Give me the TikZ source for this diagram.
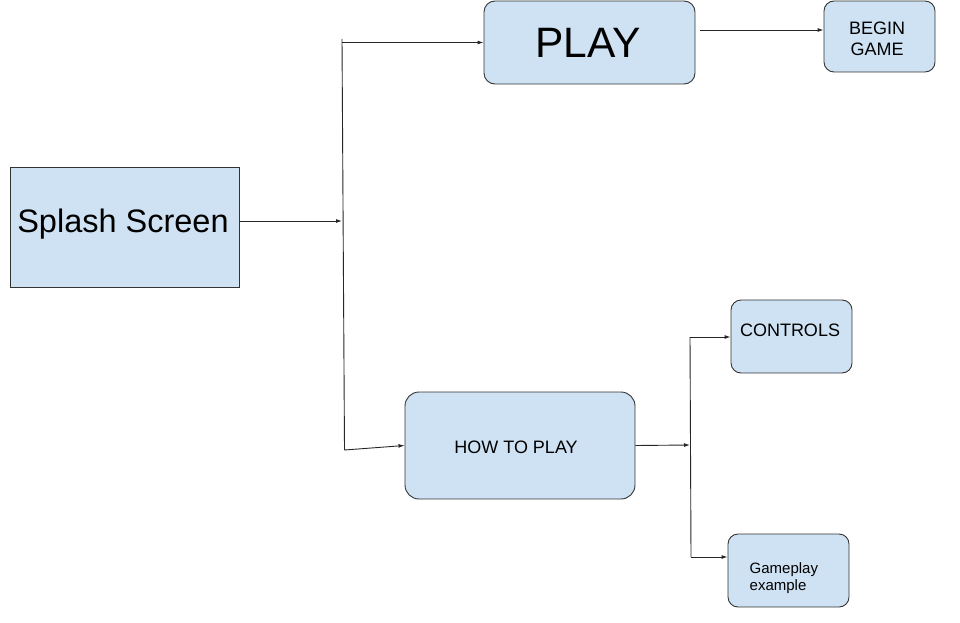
\documentclass[tikz,border=0pt]{standalone}
\usepackage{fontspec}
\setmainfont{Liberation Sans}
\usetikzlibrary{arrows.meta}
\definecolor{boxblue}{HTML}{CFE2F3}

\begin{document}
\begin{tikzpicture}[x=1pt,y=-1pt,
  box/.style={draw=black!80,fill=boxblue,line width=0.9pt,rounded corners=11pt,inner sep=0pt},
  txt/.style={inner sep=0pt,text=black},
  link/.style={draw=black!85,line width=0.9pt},
  tip/.style={link,-{Latex[length=6pt,width=4pt]}}]
\useasboundingbox (0,0) rectangle (960,623);
\node[box,sharp corners,minimum width=229pt,minimum height=120pt] (splash) at (124.5,227) {};
\node[box,minimum width=211pt,minimum height=83pt] (play) at (589.5,42.5) {};
\node[box,minimum width=111pt,minimum height=71pt,rounded corners=10pt] (begin) at (879.5,36.5) {};
\node[box,minimum width=121pt,minimum height=73pt,rounded corners=10pt] (controls) at (791.5,336.5) {};
\node[box,minimum width=230pt,minimum height=107pt,rounded corners=14pt] (howto) at (520,445.5) {};
\node[box,minimum width=121pt,minimum height=73pt,rounded corners=10pt] (gameplay) at (788.5,570.5) {};
\node[txt,anchor=base,font=\fontsize{32.5}{36}\selectfont] (splash-t) at (123,232) {Splash Screen};
\node[txt,anchor=base,font=\fontsize{42.5}{48}\selectfont] (play-t) at (588,58) {PLAY};
\node[txt,align=center,font=\fontsize{18}{21}\selectfont] (begin-t) at (877,38.5) {BEGIN\\GAME};
\node[txt,anchor=base,font=\fontsize{18}{22}\selectfont] (controls-t) at (790,336) {CONTROLS};
\node[txt,anchor=base,font=\fontsize{18}{22}\selectfont] (howto-t) at (516,453) {HOW TO PLAY};
\node[txt,anchor=west,align=left,font=\fontsize{15}{17}\selectfont] (gameplay-t) at (749.5,578.5) {Gameplay\\example};
\coordinate (j1) at (342,221);
\coordinate (j1top) at (342,39);
\coordinate (j1bot) at (344.5,450);
\coordinate (p1) at (700,30);
\coordinate (j2) at (690,445);
\coordinate (j2top) at (690,337);
\coordinate (j2bot) at (691,557);
\draw[tip] (splash.east |- j1) -- (j1);
\draw[link] (j1top) -- (j1bot);
\draw[tip] (play.west -| j1top) -- (play.west);
\draw[tip] (j1bot) -- (howto.west);
\draw[tip] (p1) -- (p1 -| begin.west);
\draw[tip] (howto.east) -- (j2);
\draw[link] (j2top) -- (j2bot);
\draw[tip] (j2top) -- (j2top -| controls.west);
\draw[tip] (j2bot) -- (j2bot -| gameplay.west);
\end{tikzpicture}
\end{document}
